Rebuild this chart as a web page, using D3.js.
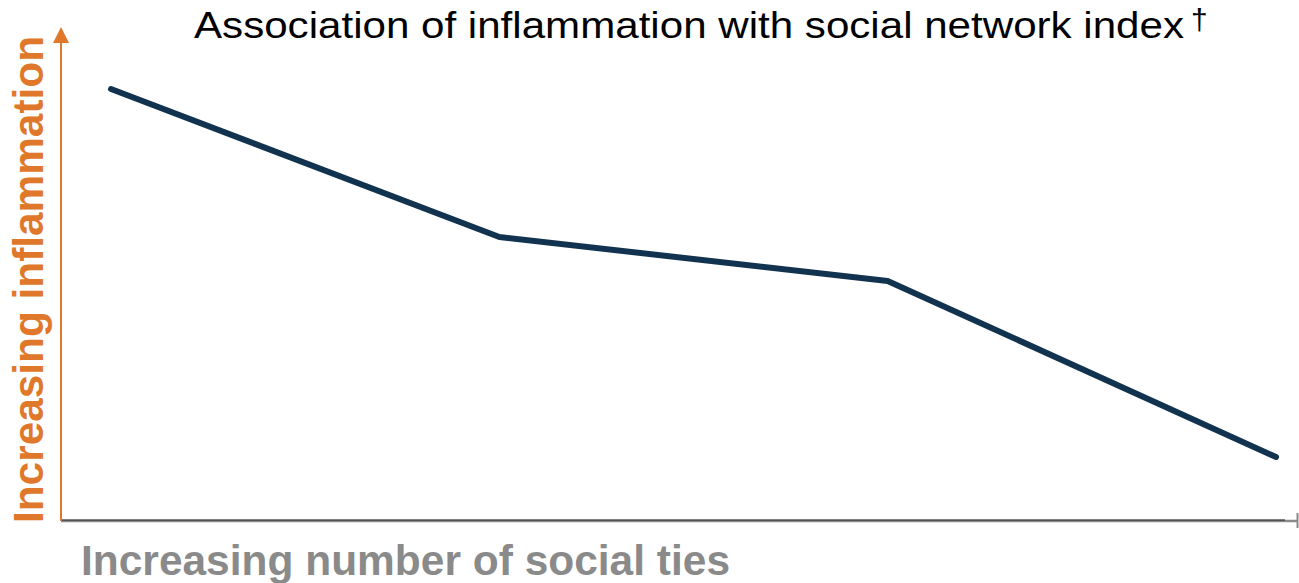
<!DOCTYPE html>
<html>
<head>
<meta charset="utf-8">
<script src="https://cdn.jsdelivr.net/npm/d3@7"></script>
<style>
  html, body { margin: 0; padding: 0; background: #fff; }
  svg { display: block; }
</style>
</head>
<body>
<svg id="chart" width="1299" height="583"></svg>
<script>
// Social network index groups (lowest to highest number of ties)
const groups = [1, 2, 3, 4];
// Relative inflammation level for each group
const inflammation = [86.2, 56.6, 47.8, 12.6];

const titleText = "Association of inflammation with social network index";
const titleMark = "\u2020";
const xLabel = "Increasing number of social ties";
const yLabel = "Increasing inflammation";

const svg = d3.select("#chart");

const axisX0 = 61, axisY0 = 521;

const x = d3.scaleLinear().domain([1, 4]).range([111, 1276]);
const y = d3.scaleLinear().domain([0, 100]).range([520, 20]);

// Horizontal axis: grey base with a darker top edge and an end tick
svg.append("line")
  .attr("x1", axisX0).attr("x2", 1298)
  .attr("y1", axisY0).attr("y2", axisY0)
  .attr("stroke", "#8a8a8a").attr("stroke-width", 2.5);
svg.append("line")
  .attr("x1", axisX0).attr("x2", 1285)
  .attr("y1", 520).attr("y2", 520)
  .attr("stroke", "#1a1a1a").attr("stroke-width", 1.2);
svg.append("line")
  .attr("x1", 1297.5).attr("x2", 1297.5)
  .attr("y1", 513).attr("y2", 528)
  .attr("stroke", "#8a8a8a").attr("stroke-width", 2);

// Vertical axis with arrowhead
const orange = "#e0782b";
svg.append("line")
  .attr("x1", axisX0).attr("x2", axisX0)
  .attr("y1", axisY0).attr("y2", 40)
  .attr("stroke", orange).attr("stroke-width", 2);
svg.append("path")
  .attr("d", `M${axisX0},27 L${axisX0 + 8},43 L${axisX0 - 8},43 Z`)
  .attr("fill", orange);

// Trend line
const line = d3.line()
  .x((d, i) => x(groups[i]))
  .y(d => y(d));
svg.append("path")
  .datum(inflammation)
  .attr("d", line)
  .attr("fill", "none")
  .attr("stroke", "#12334f")
  .attr("stroke-width", 6)
  .attr("stroke-linecap", "round")
  .attr("stroke-linejoin", "round");

// Title with raised dagger footnote mark
const title = svg.append("text")
  .attr("font-family", "Liberation Sans, Arial, sans-serif")
  .attr("fill", "#000");
title.append("tspan")
  .attr("x", 194).attr("y", 38)
  .attr("font-size", 36)
  .attr("textLength", 990)
  .attr("lengthAdjust", "spacingAndGlyphs")
  .text(titleText);
title.append("tspan")
  .attr("x", 1191).attr("y", 30)
  .attr("font-size", 30)
  .text(titleMark);

// Axis labels
svg.append("text")
  .attr("x", 81).attr("y", 575)
  .attr("font-family", "Liberation Sans, Arial, sans-serif")
  .attr("font-weight", "bold")
  .attr("font-size", 42)
  .attr("textLength", 649)
  .attr("lengthAdjust", "spacingAndGlyphs")
  .attr("fill", "#8a8a8a")
  .text(xLabel);

svg.append("text")
  .attr("transform", "translate(43,523) rotate(-90)")
  .attr("font-family", "Liberation Sans, Arial, sans-serif")
  .attr("font-weight", "bold")
  .attr("font-size", 42)
  .attr("textLength", 487)
  .attr("lengthAdjust", "spacingAndGlyphs")
  .attr("fill", orange)
  .text(yLabel);
</script>
</body>
</html>
